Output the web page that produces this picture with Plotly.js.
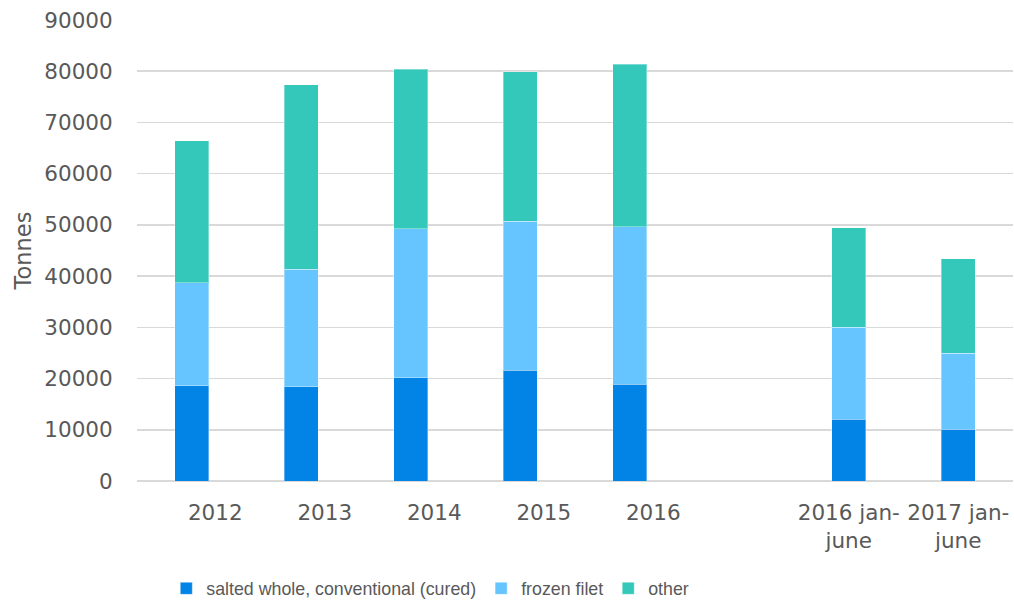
<!DOCTYPE html>
<html>
<head>
<meta charset="utf-8">
<script src="https://cdn.plot.ly/plotly-3.0.1.min.js"></script>
<style>html,body{margin:0;padding:0;background:#fff;}#chart{width:1014px;height:602px;}</style>
</head>
<body>
<div id="chart"></div>
<script>
// Data (tonnes)
const categories = ['2012', '2013', '2014', '2015', '2016', '', '2016 jan-<br>june', '2017 jan-<br>june'];
const saltedWhole = [18600, 18400, 20200, 21600, 18850, null, 12100, 10100];
const frozenFilet = [20100, 22900, 29000, 29100, 30750, null, 17900, 14800];
const other       = [27700, 36100, 31200, 29200, 31800, null, 19400, 18500];
const seriesNames = ['salted whole, conventional (cured)', 'frozen filet', 'other'];
const yTickVals = [0, 10000, 20000, 30000, 40000, 50000, 60000, 70000, 80000, 90000];

const colors = ['#0283E6', '#66C5FE', '#33C8BA'];
const xIdx = categories.map((c, i) => i);
const labelShift = 0.215;
const tickPos = categories.map((c, i) => i + (c.indexOf('jan') >= 0 ? 0 : labelShift));

const tickFont = {family: 'DejaVu Sans, Open Sans, sans-serif', size: 21.5, color: '#595959'};

const traces = [saltedWhole, frozenFilet, other].map((vals, k) => ({
  type: 'bar',
  name: seriesNames[k],
  x: xIdx,
  y: vals,
  width: 0.31,
  marker: {color: colors[k], line: {width: 1, color: 'rgba(255,255,255,0.35)'}},
  hoverinfo: 'skip'
}));

const layout = {
  width: 1014,
  height: 602,
  margin: {l: 137, r: 1, t: 20, b: 121},
  barmode: 'stack',
  paper_bgcolor: '#ffffff',
  plot_bgcolor: '#ffffff',
  showlegend: true,
  legend: {
    orientation: 'h',
    xref: 'container', yref: 'container',
    x: 0.164, xanchor: 'left',
    y: 0.022, yanchor: 'middle',
    font: {family: 'Liberation Sans, Arial, sans-serif', size: 17.8, color: '#595959'},
    itemwidth: 30,
    traceorder: 'normal'
  },
  xaxis: {
    type: 'linear',
    range: [-0.5, 7.5],
    tickmode: 'array',
    tickvals: tickPos,
    ticktext: categories,
    ticks: 'outside', ticklen: 12, tickcolor: 'rgba(0,0,0,0)',
    showgrid: false, zeroline: false, showline: false,
    tickfont: tickFont,
    fixedrange: true
  },
  yaxis: {
    range: [0, 90000],
    tickmode: 'array',
    tickvals: yTickVals,
    ticktext: yTickVals.map(String),
    ticks: 'outside', ticklen: 19, tickcolor: 'rgba(0,0,0,0)',
    showgrid: true, gridcolor: '#D9D9D9', gridwidth: 1.5,
    zeroline: true, zerolinecolor: '#D9D9D9', zerolinewidth: 1.5,
    showline: false,
    tickfont: tickFont,
    title: {text: 'Tonnes', font: {family: 'DejaVu Sans, Open Sans, sans-serif', size: 22.5, color: '#595959'}, standoff: 6},
    fixedrange: true
  }
};

Plotly.newPlot('chart', traces, layout, {displayModeBar: false, staticPlot: true});
</script>
</body>
</html>
